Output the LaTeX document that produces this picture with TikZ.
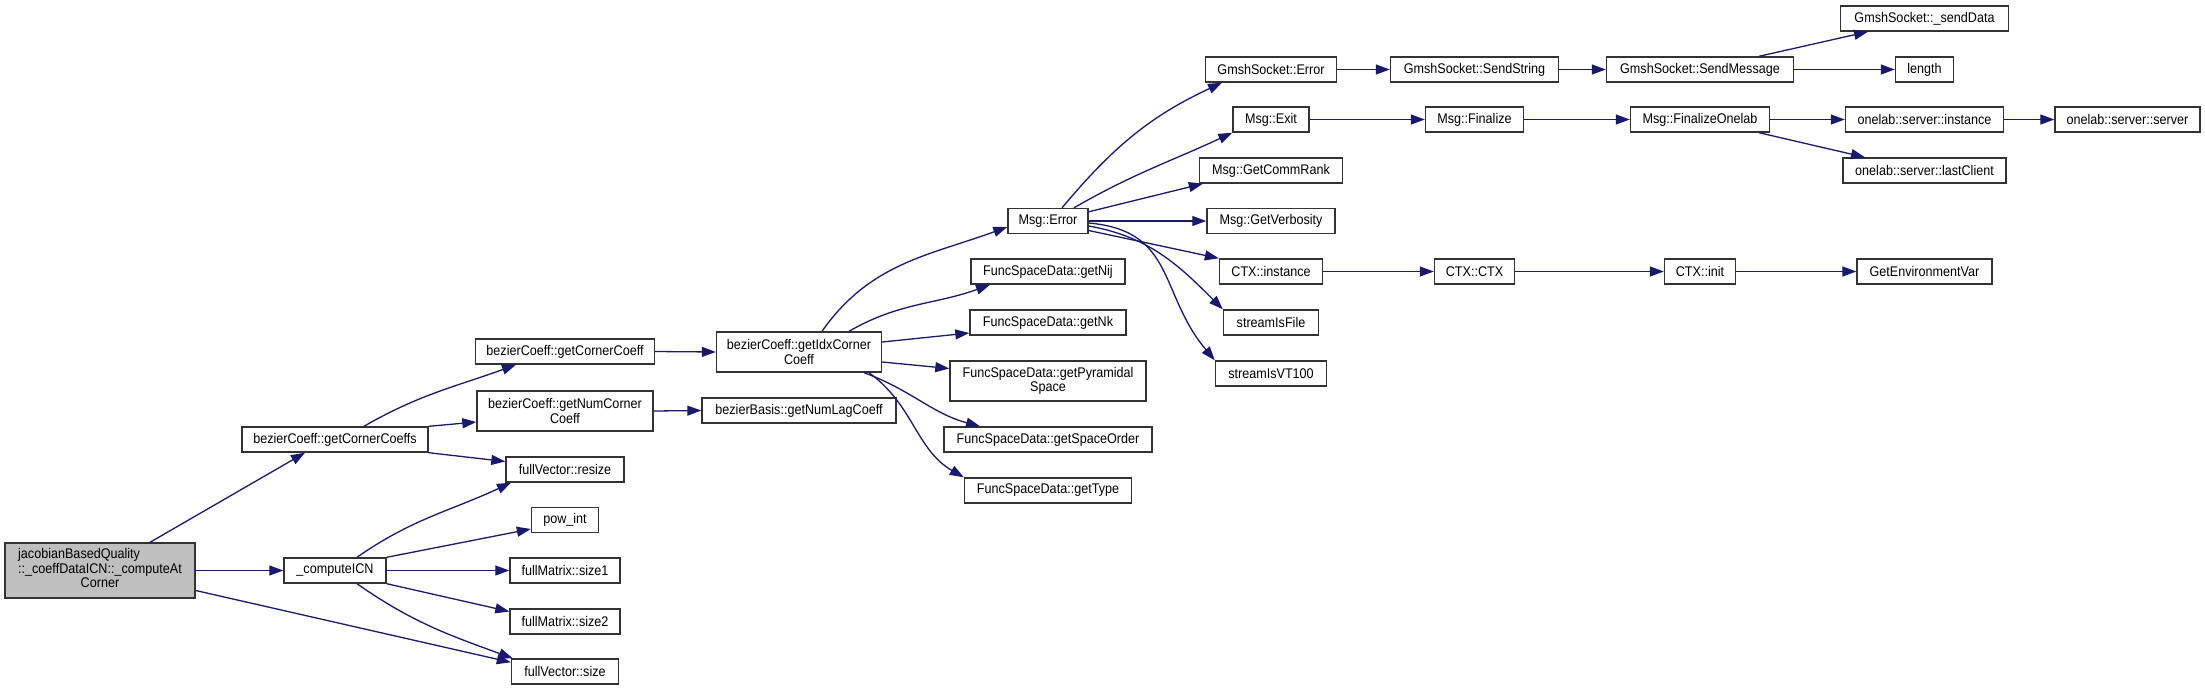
\documentclass[tikz,border=0pt]{standalone}
\usepackage{fontspec}
\setmainfont{Liberation Sans}[FakeStretch=0.9]
\usetikzlibrary{arrows.meta}
\definecolor{edgec}{HTML}{191970}
\definecolor{rootfill}{HTML}{BFBFBF}
\begin{document}
\begin{tikzpicture}[x=1pt,y=-1pt,
  fn/.style={draw=black!80, line width=1.4pt, fill=white, inner sep=0pt, minimum height=25pt, align=center, font=\fontsize{14}{14.5}\selectfont},
  tall/.style={minimum height=40pt},
  call/.style={draw=edgec, line width=1.3pt, -{Triangle[length=14pt,width=10pt]}, fill=none}]
\useasboundingbox (0,0) rectangle (2205,691);
% nodes
\node[fn, minimum width=190pt, minimum height=55pt, fill=rootfill] (root) at (100,570.5) {\begin{tabular}{@{}l@{}}jacobianBasedQuality\\::\_coeffDataICN::\_computeAt\\\multicolumn{1}{@{}c@{}}{Corner}\end{tabular}};
\node[fn, minimum width=186pt] (gcs) at (335,439.5) {bezierCoeff::getCornerCoeffs};
\node[fn, minimum width=102pt] (cicn) at (335,570.5) {\_computeICN};
\node[fn, minimum width=179pt] (gcc) at (565,351.5) {bezierCoeff::getCornerCoeff};
\node[fn, tall, minimum width=176pt] (gncc) at (565,411) {bezierCoeff::getNumCorner\\Coeff};
\node[fn, minimum width=118pt] (resize) at (565,469.5) {fullVector::resize};
\node[fn, minimum width=67pt] (pow) at (565,520) {pow\_int};
\node[fn, minimum width=110pt] (sz1) at (565,570.5) {fullMatrix::size1};
\node[fn, minimum width=110pt] (sz2) at (565,621.5) {fullMatrix::size2};
\node[fn, minimum width=107pt] (fvs) at (565,671.5) {fullVector::size};
\node[fn, tall, minimum width=165pt] (gidx) at (799,352) {bezierCoeff::getIdxCorner\\Coeff};
\node[fn, minimum width=194pt] (gnlc) at (799,410.5) {bezierBasis::getNumLagCoeff};
\node[fn, minimum width=80pt] (merr) at (1048,221) {Msg::Error};
\node[fn, minimum width=154pt] (nij) at (1048,271.5) {FuncSpaceData::getNij};
\node[fn, minimum width=156pt] (nk) at (1048,322.5) {FuncSpaceData::getNk};
\node[fn, tall, minimum width=196pt] (pyr) at (1048,381) {FuncSpaceData::getPyramidal\\Space};
\node[fn, minimum width=208pt] (so) at (1048,439.5) {FuncSpaceData::getSpaceOrder};
\node[fn, minimum width=167pt] (gt) at (1048,490.5) {FuncSpaceData::getType};
\node[fn, minimum width=131pt] (gse) at (1271,69.5) {GmshSocket::Error};
\node[fn, minimum width=76pt] (mexit) at (1271,119.5) {Msg::Exit};
\node[fn, minimum width=143pt] (gcr) at (1271,170.5) {Msg::GetCommRank};
\node[fn, minimum width=128pt] (gvb) at (1271,221) {Msg::GetVerbosity};
\node[fn, minimum width=103pt] (ctxi) at (1271,271.5) {CTX::instance};
\node[fn, minimum width=95pt] (sif) at (1271,322.5) {streamIsFile};
\node[fn, minimum width=111pt] (svt) at (1271,373.5) {streamIsVT100};
\node[fn, minimum width=168pt] (sstr) at (1474.5,69.5) {GmshSocket::SendString};
\node[fn, minimum width=98pt] (mfin) at (1474.5,119.5) {Msg::Finalize};
\node[fn, minimum width=80pt] (ctxc) at (1474.5,271.5) {CTX::CTX};
\node[fn, minimum width=187pt] (smsg) at (1700,69.5) {GmshSocket::SendMessage};
\node[fn, minimum width=139pt] (mfo) at (1700,119.5) {Msg::FinalizeOnelab};
\node[fn, minimum width=71pt] (ctxinit) at (1700,271.5) {CTX::init};
\node[fn, minimum width=168pt] (sd) at (1924.5,18.5) {GmshSocket::\_sendData};
\node[fn, minimum width=58pt] (len) at (1924.5,69.5) {length};
\node[fn, minimum width=158pt] (osi) at (1924.5,119.5) {onelab::server::instance};
\node[fn, minimum width=163pt] (olc) at (1924.5,170.5) {onelab::server::lastClient};
\node[fn, minimum width=135pt] (gev) at (1924.5,271.5) {GetEnvironmentVar};
\node[fn, minimum width=145pt] (oss) at (2127.5,119.5) {onelab::server::server};
% edges
\draw[call] ([xshift=50pt]root.north) -- ([xshift=-30pt]gcs.south);
\draw[call] (root.east) -- (cicn.west);
\draw[call] ([yshift=-20pt]root.east) -- ([yshift=-4pt]fvs.north west);
\draw[call] ([xshift=29pt]gcs.north) to[out=30,in=200] ([xshift=-49pt]gcc.south);
\draw[call] (gcs.north east) -- ([yshift=-11pt]gncc.west);
\draw[call] (gcs.south east) -- ([yshift=8pt]resize.west);
\draw[call] ([xshift=22pt]cicn.north) to[out=35,in=205] ([xshift=-54pt]resize.south);
\draw[call] (cicn.north east) -- ([yshift=-9pt]pow.west);
\draw[call] (cicn.east) -- (sz1.west);
\draw[call] (cicn.south east) -- ([yshift=10pt]sz2.west);
\draw[call] ([xshift=22pt]cicn.south) to[out=-35,in=160] ([xshift=2pt]fvs.north west);
\draw[call] (gcc.east) -- (gidx.west);
\draw[call] (gncc.east) -- (gnlc.west);
\draw[call] ([xshift=23pt]gidx.north) to[out=55,in=200] ([yshift=-6pt]merr.west);
\draw[call] ([xshift=50pt]gidx.north) to[out=30,in=200] ([xshift=-58pt]nij.south);
\draw[call] ([yshift=10pt]gidx.east) -- ([yshift=-10.5pt]nk.west);
\draw[call] ([yshift=-10pt]gidx.east) -- ([yshift=12.5pt]pyr.west);
\draw[call] ([xshift=65pt]gidx.south) to[out=-20,in=165] ([xshift=-68pt]so.north);
\draw[call] ([xshift=70pt]gidx.south) to[out=-36,in=150] (gt.north west);
\draw[call] ([xshift=14pt]merr.north) to[out=50,in=205] ([xshift=-49pt]gse.south);
\draw[call] ([xshift=26pt]merr.north) to[out=30,in=205] (mexit.south west);
\draw[call] ([yshift=-4pt]merr.north east) -- ([xshift=4pt]gcr.south west);
\draw[call] (merr.east) -- (gvb.west);
\draw[call] ([yshift=-9.5pt]merr.east) -- (ctxi.north west);
\draw[call] ([yshift=-5pt]merr.east) to[out=-10,in=135] (sif.north west);
\draw[call] ([yshift=-2pt]merr.east) to[out=-5,in=130,looseness=1.2] (svt.north west);
\draw[call] (gse.east) -- (sstr.west);
\draw[call] (sstr.east) -- (smsg.west);
\draw[call] ([xshift=59pt]smsg.north) -- ([xshift=-56.5pt]sd.south);
\draw[call] (smsg.east) -- (len.west);
\draw[call] (mexit.east) -- (mfin.west);
\draw[call] (mfin.east) -- (mfo.west);
\draw[call] (mfo.east) -- (osi.west);
\draw[call] (osi.east) -- (oss.west);
\draw[call] ([xshift=59pt]mfo.south) -- ([xshift=-59.5pt]olc.north);
\draw[call] (ctxi.east) -- (ctxc.west);
\draw[call] (ctxc.east) -- (ctxinit.west);
\draw[call] (ctxinit.east) -- (gev.west);
\end{tikzpicture}
\end{document}
